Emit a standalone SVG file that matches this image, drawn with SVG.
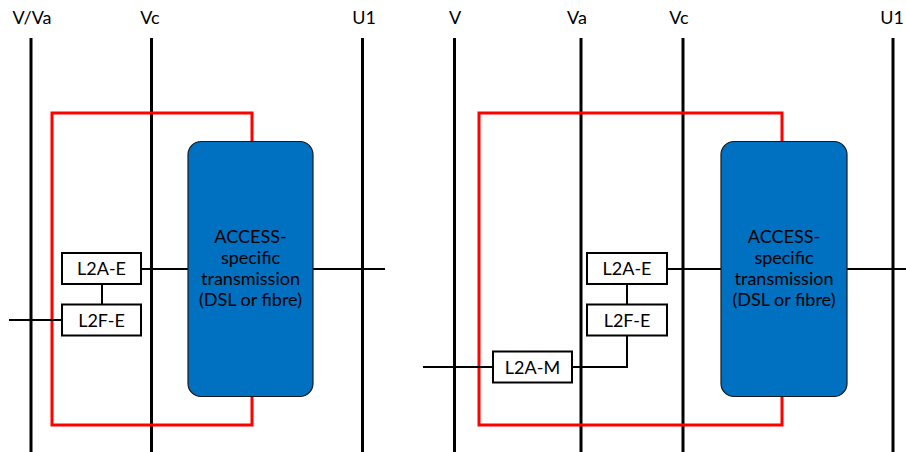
<svg xmlns="http://www.w3.org/2000/svg" width="906" height="452" viewBox="0 0 906 452">
<style>
.bus{stroke:#000;stroke-width:3;fill:none}
.wire{stroke:#000;stroke-width:2;fill:none}
.red{stroke:#ff0000;stroke-width:3;fill:none}
.box{fill:#fff;stroke:#000;stroke-width:2}
.blue{fill:#0070c0;stroke:#1a1a1a;stroke-width:1.2}
text{font-family:Lato,"Noto Sans",sans-serif;font-size:18px;fill:#000;text-anchor:middle}
</style>
<rect width="906" height="452" fill="#fff"/>
<g id="labels">
<text x="32" y="24">V/Va</text>
<text x="150" y="24">Vc</text>
<text x="364" y="24">U1</text>
<text x="455" y="24">V</text>
<text x="577" y="24">Va</text>
<text x="679" y="24">Vc</text>
<text x="892" y="24">U1</text>
</g>
<g id="connectors">
<line class="bus" x1="31" y1="38" x2="31" y2="452"/>
<line class="bus" x1="151.5" y1="38" x2="151.5" y2="452"/>
<line class="bus" x1="362.5" y1="38" x2="362.5" y2="452"/>
<line class="bus" x1="454.5" y1="38" x2="454.5" y2="452"/>
<line class="bus" x1="581" y1="38" x2="581" y2="452"/>
<line class="bus" x1="683" y1="38" x2="683" y2="452"/>
<line class="bus" x1="893" y1="38" x2="893" y2="452"/>
<path class="red" d="M252 142 V113 H52 V425 H252 V397"/>
<path class="red" d="M782 142 V113 H479 V425 H782 V397"/>
<line class="wire" x1="141" y1="269" x2="188" y2="269"/>
<line class="wire" x1="313" y1="269" x2="385" y2="269"/>
<line class="wire" x1="102" y1="284" x2="102" y2="304"/>
<line class="wire" x1="9" y1="320" x2="62" y2="320"/>
<line class="wire" x1="667" y1="269" x2="721" y2="269"/>
<line class="wire" x1="847" y1="269" x2="906" y2="269"/>
<line class="wire" x1="627" y1="284" x2="627" y2="304"/>
<line class="wire" x1="423" y1="367" x2="493" y2="367"/>
<path class="wire" d="M572 367 H627 V336"/>
</g>
<g id="access1">
<rect class="blue" x="188" y="141.5" width="125" height="255" rx="13"/>
<text x="250.5" y="243">ACCESS-</text>
<text x="250.5" y="264">specific</text>
<text x="250.5" y="285">transmission</text>
<text x="250.5" y="306">(DSL or fibre)</text>
</g>
<g id="l2ae1">
<rect class="box" x="62" y="253" width="79" height="31"/>
<text x="101.5" y="275">L2A-E</text>
</g>
<g id="l2fe1">
<rect class="box" x="62" y="304.5" width="79" height="31"/>
<text x="101.5" y="326.5">L2F-E</text>
</g>
<g id="access2">
<rect class="blue" x="721" y="141.5" width="126" height="255" rx="13"/>
<text x="784" y="243">ACCESS-</text>
<text x="784" y="264">specific</text>
<text x="784" y="285">transmission</text>
<text x="784" y="306">(DSL or fibre)</text>
</g>
<g id="l2ae2">
<rect class="box" x="587" y="253" width="80" height="31"/>
<text x="627" y="275">L2A-E</text>
</g>
<g id="l2fe2">
<rect class="box" x="587" y="304.5" width="80" height="31"/>
<text x="627" y="326.5">L2F-E</text>
</g>
<g id="l2am">
<rect class="box" x="493" y="351.5" width="79" height="31"/>
<text x="532.5" y="373.5">L2A-M</text>
</g>
</svg>
